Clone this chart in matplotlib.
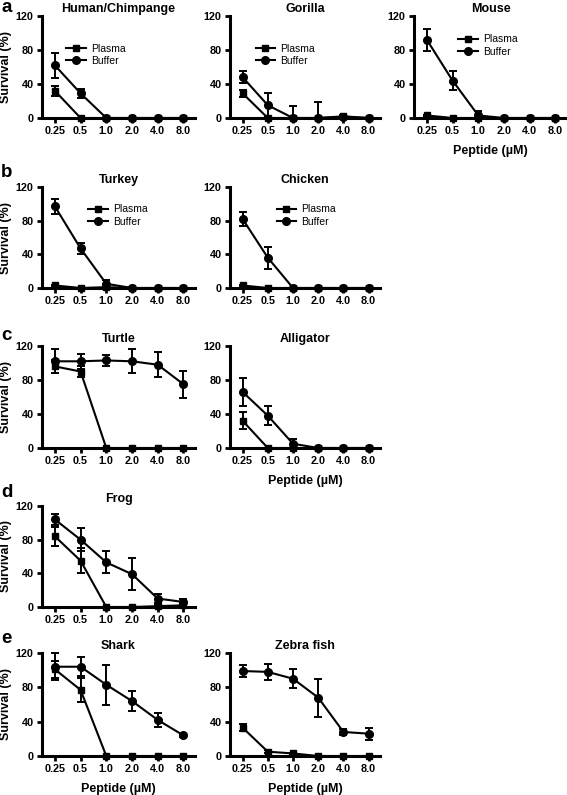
import matplotlib
matplotlib.use("Agg")
import matplotlib.pyplot as plt
from matplotlib.lines import Line2D
import numpy as np

plt.rcParams['font.family'] = ['Liberation Sans', 'DejaVu Sans']

doses = ['0.25', '0.5', '1.0', '2.0', '4.0', '8.0']

# survival (%) mean and error for each species
human_plasma = [32, 0, 0, 0, 0, 0]
human_plasma_err = [6, 0, 0, 0, 0, 0]
human_buffer = [62, 29, 0, 0, 0, 0]
human_buffer_err = [15, 5, 0, 0, 0, 0]

gorilla_plasma = [29, 0, 0, 0, 2, 0]
gorilla_plasma_err = [4, 0, 0, 0, 2, 0]
gorilla_buffer = [48, 15, 0, 0, 1, 0]
gorilla_buffer_err = [7, 14, 14, 19, 0, 0]

mouse_plasma = [3, 0, 0, 0, 0, 0]
mouse_plasma_err = [1, 0, 0, 0, 0, 0]
mouse_buffer = [92, 44, 3, 0, 0, 0]
mouse_buffer_err = [13, 11, 5, 0, 0, 0]

turkey_plasma = [3, 0, 1, 0, 0, 0]
turkey_plasma_err = [1, 0, 0, 0, 0, 0]
turkey_buffer = [97, 47, 5, 0, 0, 0]
turkey_buffer_err = [9, 7, 4, 0, 0, 0]

chicken_plasma = [3, 0, 0, 0, 0, 0]
chicken_plasma_err = [1, 0, 0, 0, 0, 0]
chicken_buffer = [82, 36, 0, 0, 0, 0]
chicken_buffer_err = [8, 13, 0, 0, 0, 0]

turtle_plasma = [96, 90, 0, 0, 0, 0]
turtle_plasma_err = [8, 7, 0, 0, 0, 0]
turtle_buffer = [102, 102, 103, 102, 98, 75]
turtle_buffer_err = [14, 9, 7, 14, 15, 16]

alligator_plasma = [32, 0, 0, 0, 0, 0]
alligator_plasma_err = [10, 0, 0, 0, 0, 0]
alligator_buffer = [66, 38, 5, 0, 0, 0]
alligator_buffer_err = [16, 11, 6, 0, 0, 0]

frog_plasma = [84, 55, 0, 0, 1, 2]
frog_plasma_err = [11, 15, 0, 0, 1, 1]
frog_buffer = [104, 80, 53, 39, 10, 6]
frog_buffer_err = [7, 14, 13, 19, 5, 3]

shark_plasma = [101, 77, 0, 0, 0, 0]
shark_plasma_err = [10, 14, 0, 0, 0, 0]
shark_buffer = [104, 104, 83, 64, 42, 24]
shark_buffer_err = [16, 11, 23, 12, 8, 2]

zebra_plasma = [33, 5, 3, 0, 0, 0]
zebra_plasma_err = [4, 2, 1, 0, 0, 0]
zebra_buffer = [99, 98, 90, 68, 28, 26]
zebra_buffer_err = [7, 9, 11, 22, 3, 7]

W, H = 567, 795
fig = plt.figure(figsize=(W / 100, H / 100), dpi=100)

def add_ax(left, top, right, bottom):
    return fig.add_axes([left / W, 1 - bottom / H, (right - left) / W, (bottom - top) / H])

def draw(ax, title, plasma, plasma_err, buffer, buffer_err, legend_xy=None):
    x = np.arange(len(doses))
    for vals, errs, mk, ms, name in [(plasma, plasma_err, 's', 5, 'Plasma'),
                                     (buffer, buffer_err, 'o', 5.5, 'Buffer')]:
        vals = np.array(vals, float)
        errs = np.array(errs, float)
        # error bars never go below the x axis
        lower = np.minimum(errs, vals)
        ax.errorbar(x, vals, yerr=[lower, errs], color='black', marker=mk, markersize=ms,
                    lw=1.5, capsize=2.6, capthick=1.4, elinewidth=1.4, clip_on=False,
                    zorder=3)
    ax.set_xlim(-0.5, 5.45)
    ax.set_ylim(0, 120)
    ax.set_xticks(x)
    ax.set_xticklabels(doses)
    ax.set_yticks([0, 40, 80, 120])
    for s in ['top', 'right']:
        ax.spines[s].set_visible(False)
    for s in ['left', 'bottom']:
        ax.spines[s].set_linewidth(2.2)
    ax.tick_params(direction='out', length=3.5, width=2.0, labelsize=7.8, pad=2.5)
    for lbl in ax.get_xticklabels() + ax.get_yticklabels():
        lbl.set_fontweight('bold')
    ax.text(0.5, 1 + 7 / (ax.bbox.height), title, transform=ax.transAxes,
            ha='center', va='center', fontsize=9, fontweight='bold')
    if legend_xy is not None:
        handles = [Line2D([], [], color='black', lw=1.5, marker='s', markersize=5),
                   Line2D([], [], color='black', lw=1.5, marker='o', markersize=5.5)]
        ax.legend(handles, ['Plasma', 'Buffer'], loc='upper left', bbox_to_anchor=legend_xy,
                  frameon=False, fontsize=7.5, numpoints=1, handlelength=1.9,
                  handletextpad=0.5, labelspacing=0.25, borderpad=0, borderaxespad=0)

cols = [(42, 195), (230, 380), (414, 567)]
rows = [(16, 118), (187, 288), (346, 448), (506, 607), (653, 756)]

panels = [
    (0, 0, 'Human/Chimpange', human_plasma, human_plasma_err, human_buffer, human_buffer_err, (0.16, 0.73)),
    (0, 1, 'Gorilla', gorilla_plasma, gorilla_plasma_err, gorilla_buffer, gorilla_buffer_err, (0.17, 0.73)),
    (0, 2, 'Mouse', mouse_plasma, mouse_plasma_err, mouse_buffer, mouse_buffer_err, (0.29, 0.82)),
    (1, 0, 'Turkey', turkey_plasma, turkey_plasma_err, turkey_buffer, turkey_buffer_err, (0.30, 0.83)),
    (1, 1, 'Chicken', chicken_plasma, chicken_plasma_err, chicken_buffer, chicken_buffer_err, (0.31, 0.83)),
    (2, 0, 'Turtle', turtle_plasma, turtle_plasma_err, turtle_buffer, turtle_buffer_err, None),
    (2, 1, 'Alligator', alligator_plasma, alligator_plasma_err, alligator_buffer, alligator_buffer_err, None),
    (3, 0, 'Frog', frog_plasma, frog_plasma_err, frog_buffer, frog_buffer_err, None),
    (4, 0, 'Shark', shark_plasma, shark_plasma_err, shark_buffer, shark_buffer_err, None),
    (4, 1, 'Zebra fish', zebra_plasma, zebra_plasma_err, zebra_buffer, zebra_buffer_err, None),
]
xlabel_panels = [(0, 2), (2, 1), (4, 0), (4, 1)]

for r, c, title, p, pe, b, be, leg in panels:
    left, right = cols[c]
    top, bottom = rows[r]
    ax = add_ax(left, top, right, bottom)
    draw(ax, title, p, pe, b, be, leg)
    if c == 0:
        fig.text(6 / W, 1 - (top + bottom) / 2 / H, 'Survival (%)', rotation=90,
                 ha='center', va='center', fontsize=9, fontweight='bold')
    if (r, c) in xlabel_panels:
        fig.text((left + right) / 2 / W, 1 - (bottom + 33) / H, 'Peptide (µM)',
                 ha='center', va='center', fontsize=9, fontweight='bold')

letters = ['a', 'b', 'c', 'd', 'e']
letter_base = [12, 177, 340, 497, 643]
for l, yb in zip(letters, letter_base):
    fig.text(1 / W, 1 - yb / H, l, ha='left', va='baseline', fontsize=13.5, fontweight='bold')

fig.savefig('out.png', dpi=100)
